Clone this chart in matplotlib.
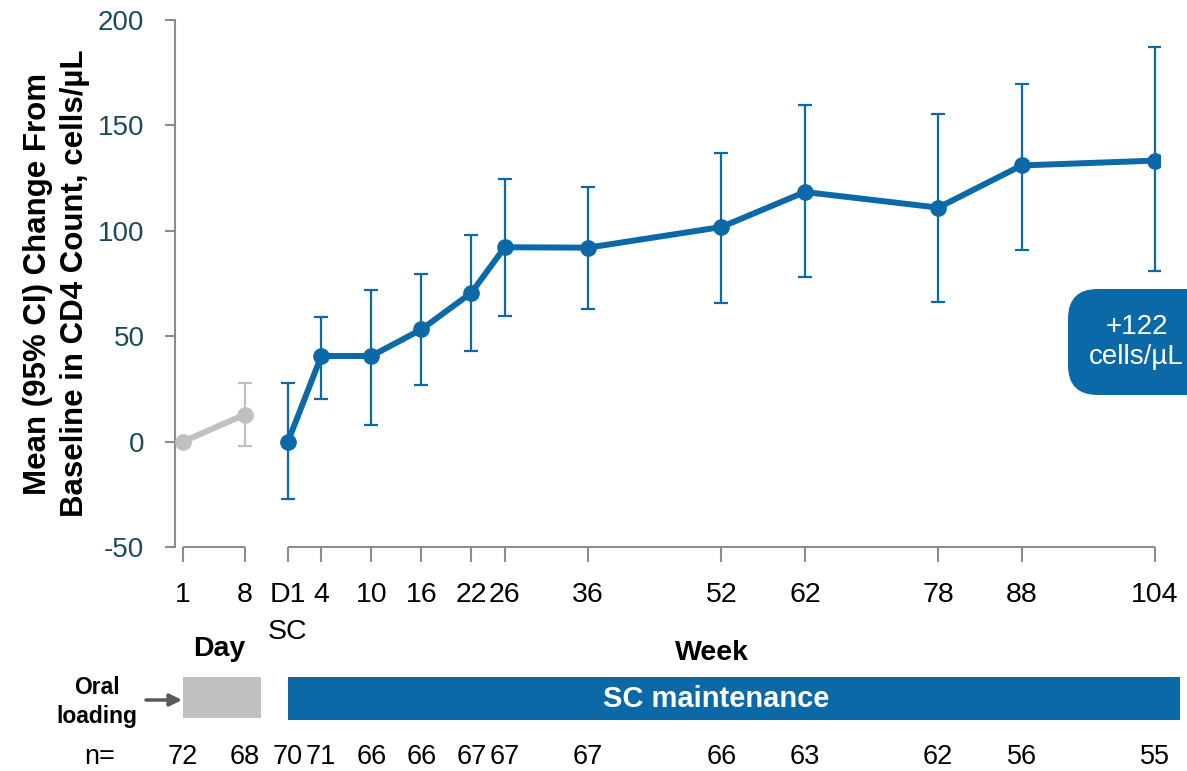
import matplotlib
matplotlib.use("Agg")
import matplotlib.pyplot as plt
from matplotlib.patches import Rectangle, FancyBboxPatch, FancyArrowPatch
import matplotlib.transforms as mtransforms

plt.rcParams['font.family'] = ['Liberation Sans', 'DejaVu Sans']
plt.rcParams['axes.unicode_minus'] = False

# ---- data ----
day_labels = ["1", "8"]
day_pos = [-12.6, -5.2]          # axis positions for the oral-loading days
day_mean = [0, 12.8]
day_lo = [0, -2]
day_hi = [0, 28]

weeks = [0, 4, 10, 16, 22, 26, 36, 52, 62, 78, 88, 104]
week_labels = ["D1\nSC", "4", "10", "16", "22", "26", "36", "52", "62", "78", "88", "104"]
week_mean = [0, 40.6, 40.6, 53.2, 70.6, 92.2, 92.0, 101.8, 118.4, 111.0, 131.0, 133.3]
week_lo = [-27, 20.4, 8.0, 26.7, 43.1, 59.4, 63.0, 65.7, 78.2, 66.0, 90.8, 80.7]
week_hi = [28, 59.0, 71.7, 79.3, 98.2, 124.5, 120.8, 137.1, 159.8, 155.6, 169.7, 187.2]

n_values = [72, 68, 70, 71, 66, 66, 67, 67, 67, 66, 63, 62, 56, 55]

BLUE = "#0a69a6"
GREY = "#c0c0c0"
TEAL = "#1b4b5a"
AXC = "#8c8c8c"

W, H = 1187, 771
fig = plt.figure(figsize=(W / 100, H / 100), dpi=100)
ax = fig.add_axes([175 / W, 1 - 547 / H, (1160 - 175) / W, (547 - 20) / H])

ax.set_ylim(-50, 200)
ax.set_xlim(-13.55, 104.6)

# grey oral-loading series
ax.plot(day_pos, day_mean, color=GREY, lw=4.3, marker='o', ms=11, zorder=3)
ax.errorbar(day_pos[1:], day_mean[1:],
            yerr=[[day_mean[1] - day_lo[1]], [day_hi[1] - day_mean[1]]],
            fmt='none', ecolor=GREY, elinewidth=1.6, capsize=5, capthick=1.6, zorder=2)

# blue SC series
yerr = [[m - l for m, l in zip(week_mean, week_lo)], [h - m for m, h in zip(week_mean, week_hi)]]
ax.errorbar(weeks, week_mean, yerr=yerr, fmt='none', ecolor=BLUE, elinewidth=1.6,
            capsize=5, capthick=1.6, zorder=2)
ax.plot(weeks, week_mean, color=BLUE, lw=4.3, marker='o', ms=11, zorder=3)

# axes styling
for s in ['top', 'right', 'bottom']:
    ax.spines[s].set_visible(False)
ax.spines['left'].set_color(AXC)
ax.spines['left'].set_linewidth(1.5)
ax.set_yticks([-50, 0, 50, 100, 150, 200])
ax.tick_params(axis='y', colors=AXC, length=7, width=1.5, labelsize=20, labelcolor=TEAL, pad=15)

ax.set_xticks(day_pos + weeks)
ax.set_xticklabels(day_labels + week_labels, fontsize=20.5, color='black', va='top',
                   linespacing=1.55)
ax.tick_params(axis='x', colors=AXC, length=11, width=1.5, labelcolor='black', pad=14)

# broken x-axis segments
ax.plot([day_pos[0], day_pos[-1]], [-50, -50], color=AXC, lw=1.5, clip_on=False,
        solid_capstyle='butt', zorder=1)
ax.plot([weeks[0], weeks[-1]], [-50, -50], color=AXC, lw=1.5, clip_on=False,
        solid_capstyle='butt', zorder=1)

ax.set_ylabel("Mean (95% CI) Change From\nBaseline in CD4 Count, cells/µL",
              fontsize=22.5, fontweight='bold', labelpad=6, linespacing=1.3)

# blended transform: x in data, y in figure fraction
bt = mtransforms.blended_transform_factory(ax.transData, fig.transFigure)
def fy(py):
    return 1 - py / H

fig.text(219 / W, fy(649), "Day", ha='center', va='center', fontsize=20.5, fontweight='bold')
fig.text(712 / W, fy(653), "Week", ha='center', va='center', fontsize=20.5, fontweight='bold')

# treatment bars
gray_rect = Rectangle((day_pos[0], fy(718)), (260 - 182) / 8.337, (718 - 677) / H,
                      transform=bt, facecolor=GREY, edgecolor='none', clip_on=False)
ax.add_patch(gray_rect)
blue_rect = Rectangle((weeks[0], fy(720)), 107.0, (720 - 677) / H,
                      transform=bt, facecolor=BLUE, edgecolor='none', clip_on=False)
ax.add_patch(blue_rect)
fig.text(716 / W, fy(699), "SC maintenance", ha='center', va='center', fontsize=21,
         fontweight='bold', color='white')

fig.text(97 / W, fy(702), "Oral\nloading", ha='center', va='center', fontsize=16.5,
         fontweight='bold', linespacing=1.35)
fig.add_artist(FancyArrowPatch((146 / W, fy(700)), (182 / W, fy(700)),
               transform=fig.transFigure, arrowstyle='-|>', mutation_scale=18,
               color='#595959', lw=2.5, shrinkA=0, shrinkB=0))

# n row
fig.text(100 / W, fy(757), "n=", ha='center', va='center', fontsize=19.5)
all_pos = day_pos + weeks
for xp, nv in zip(all_pos, n_values):
    ax.text(xp, fy(757), str(nv), transform=bt, ha='center', va='center', fontsize=19.5,
            clip_on=False)

# annotation box
box = FancyBboxPatch((1068 / W, fy(395)), 180 / W, (395 - 289) / H,
                     boxstyle="round,pad=0,rounding_size=0.025",
                     transform=fig.transFigure, facecolor=BLUE, edgecolor='none',
                     mutation_aspect=W / H)
fig.add_artist(box)
fig.text(1184 / W, fy(342), "+122\ncells/µL", ha='right', va='center', fontsize=20,
         color='white', linespacing=1.2, multialignment='center')

fig.savefig("out.png", dpi=100)
